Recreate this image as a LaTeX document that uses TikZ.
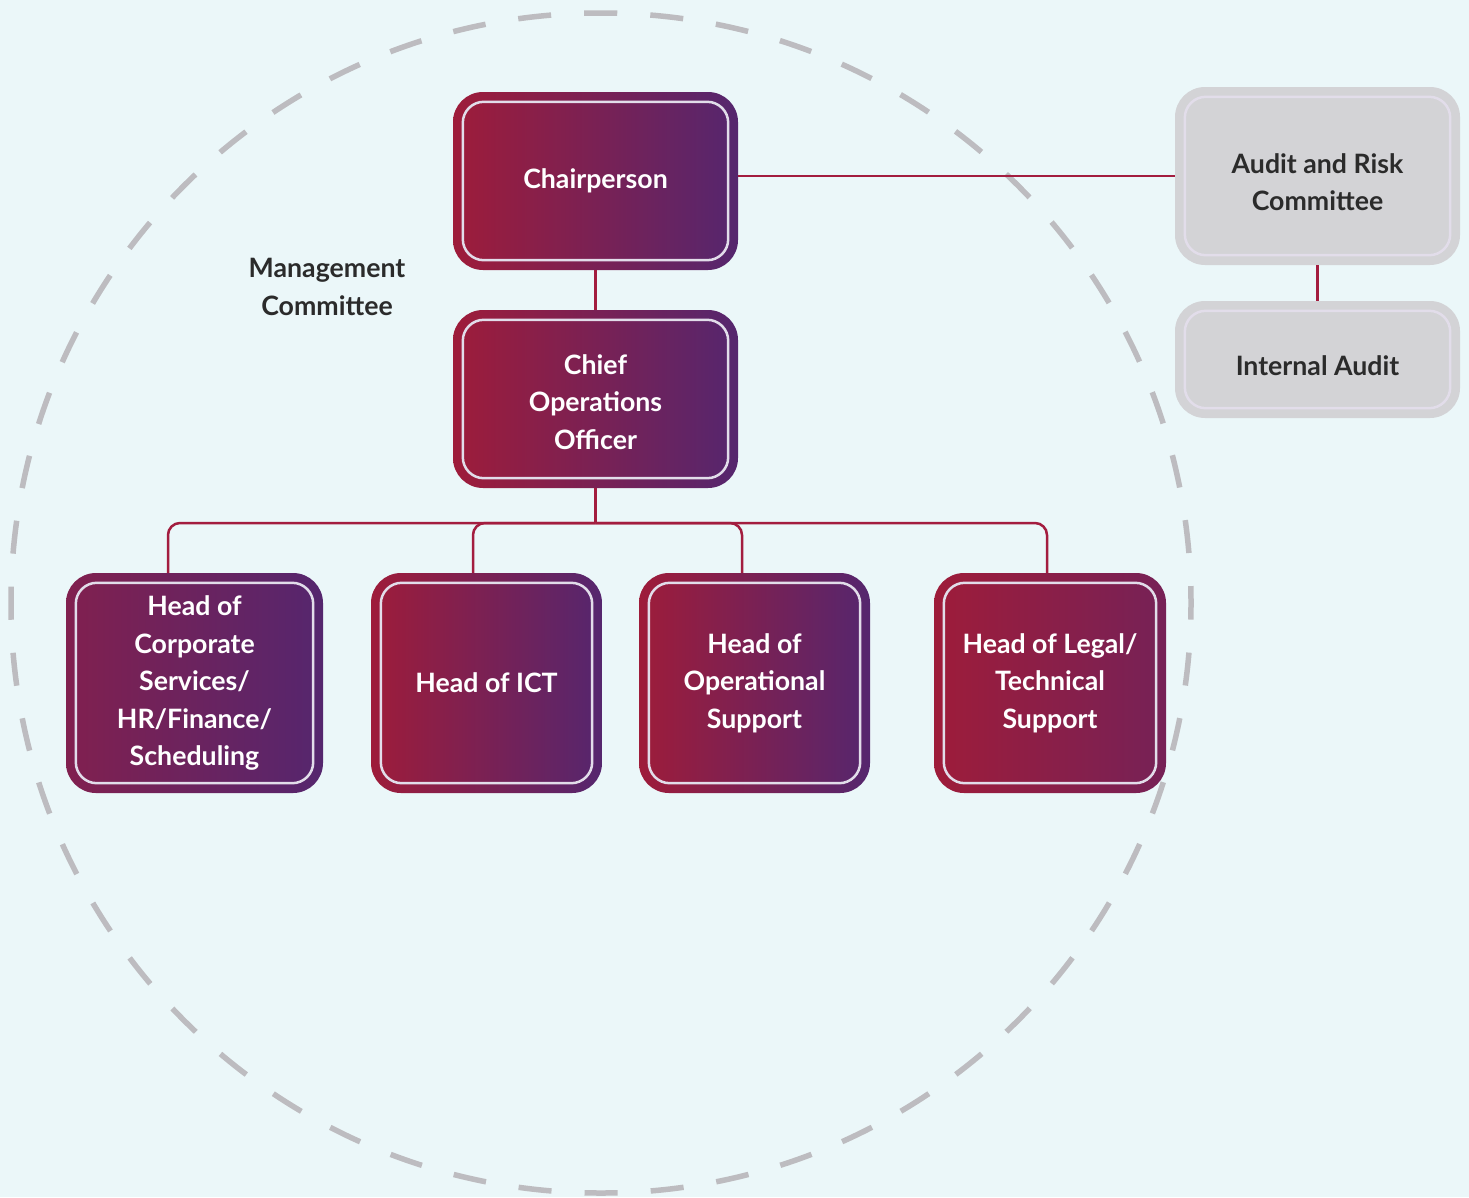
\documentclass[tikz,border=0pt]{standalone}
\usepackage{fontspec}
\setmainfont{Lato}
\usepackage{xcolor}
\usetikzlibrary{positioning,
	calc}

\definecolor{crimson}{HTML}{9E1C3A}
\definecolor{plum}{HTML}{55266E}
\definecolor{linkred}{HTML}{A31D3F}
\definecolor{paper}{HTML}{EBF7F9}
\definecolor{boxgray}{HTML}{D3D3D6}
\definecolor{rimline}{HTML}{E2DDEA}
\definecolor{ringgray}{HTML}{BDBCC0}
\definecolor{ink}{HTML}{2B2B2B}

\tikzset{
	headbox/.style={rounded corners=30, inner sep=0pt, align=center, text=white,
		font=\bfseries\fontsize{26.7}{37.5}\selectfont},
	greybox/.style={rounded corners=30, inner sep=0pt, align=center, text=ink, fill=boxgray,
		font=\bfseries\fontsize{26.7}{37.5}\selectfont},
	innerline/.style={draw=rimline, line width=2.5, rounded corners=21},
	link/.style={draw=linkred, line width=2.5},
	ring/.style={draw=ringgray, line width=5.5, dash pattern=on 33.1 off 33.1, dash phase=16.55}
}

\begin{document}
\begin{tikzpicture}[x=1pt, y=-1pt]
	\useasboundingbox (0, 0) rectangle (1469, 1197);
	\fill[paper] (0, 0) rectangle (1469, 1197);

	\draw[ring] (601, 603) circle (590);

	\node (mgmt) at (327, 287) [align=center, text=ink, font=\bfseries\fontsize{26.7}{37.5}\selectfont] {Management\\Committee};

	\node[headbox, minimum width=285, minimum height=178, left color=crimson, middle color=crimson!55!plum, right color=plum] (chair) at (595.5, 181) {Chairperson};
	\node[headbox, minimum width=285, minimum height=178, left color=crimson, middle color=crimson!55!plum, right color=plum] (coo) at (595.5, 399) {\rule{0pt}{26pt}Chief\\Operations\\Officer};

	\node[greybox, minimum width=285, minimum height=178] (arc) at (1317.5, 176) {\rule{0pt}{32pt}Audit and Risk\\Committee};
	\node[greybox, minimum width=285, minimum height=117] (ia) at (1317.5, 359.5) {\rule{0pt}{32pt}Internal Audit};

	\node[headbox, minimum width=257, minimum height=220, left color=crimson!60!plum, middle color=plum, right color=plum] (corp) at (194.5, 683) {Head of\\Corporate\\Services/\\HR/Finance/\\Scheduling};
	\node[headbox, minimum width=231, minimum height=220, left color=crimson, right color=plum] (ict) at (486.5, 683) {Head of ICT};
	\node[headbox, minimum width=231, minimum height=220, left color=crimson, middle color=crimson!65!plum, right color=plum] (ops) at (754.5, 683) {Head of\\Operational\\Support};
	\node[headbox, minimum width=232, minimum height=220, left color=crimson, middle color=crimson, right color=crimson!45!plum] (legal) at (1050, 683) {Head of Legal/\\Technical\\Support};

	\foreach \n in {chair, coo, arc, ia, corp, ict, ops, legal}
		\draw[innerline] ([shift={(10, 10)}]\n.north west) rectangle ([shift={(-10, -10)}]\n.south east);

	\draw[link] (chair.south) -- (coo.north);
	\draw[link] (chair.east |- arc.west) -- (arc.west);
	\draw[link] (arc.south) -- (ia.north);

	\coordinate (bus) at (coo.south |- 0, 523);
	\draw[link] (coo.south) -- (bus);
	\foreach \n/\dx in {corp/-26.5, ict/-13.5, ops/-12.5, legal/-3}
		\draw[link, rounded corners=12] (bus) -| ([xshift=\dx]\n.north);
\end{tikzpicture}
\end{document}
